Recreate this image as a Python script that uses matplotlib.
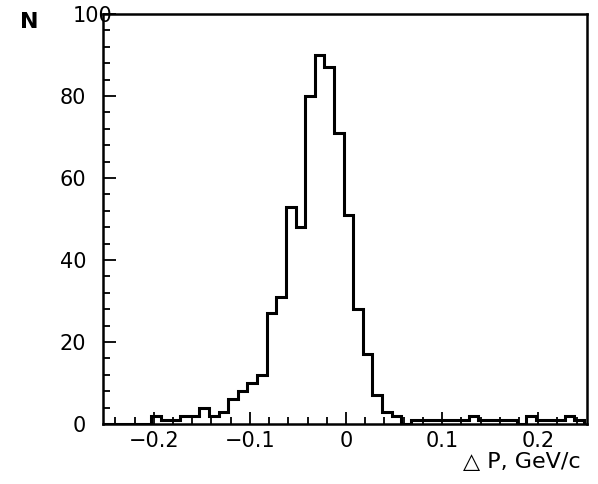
import numpy as np
import matplotlib
matplotlib.use('Agg')
import matplotlib.pyplot as plt
from matplotlib.ticker import MultipleLocator, FuncFormatter

# bin edges, width 0.01 GeV/c
bin_lo = -0.2525
bin_width = 0.01
counts = [0, 0, 0, 0, 0,
          2, 1, 1, 2, 2, 4, 2, 3, 6, 8, 10, 12,
          27, 31, 53, 48, 80, 90, 87, 71, 51, 28, 17, 7, 3, 2, 0,
          1, 1, 1, 1, 1, 1, 2, 1, 1, 1, 1, 0, 2, 1, 1, 1, 2, 1]
x_ticks = [-0.2, -0.1, 0, 0.1, 0.2]
y_ticks = [0, 20, 40, 60, 80, 100]

edges = bin_lo + bin_width * np.arange(len(counts) + 1)

fig = plt.figure(figsize=(5.98, 4.84), dpi=100)
ax = fig.add_axes([0.172, 0.124, 0.81, 0.847])

ax.stairs(counts, edges, color='black', linewidth=2.2)

ax.set_xlim(-0.253, 0.251)
ax.set_ylim(0, 100)
ax.set_xticks(x_ticks)
ax.set_yticks(y_ticks)
ax.xaxis.set_minor_locator(MultipleLocator(0.02))
ax.yaxis.set_minor_locator(MultipleLocator(4))

def fmt_x(v, pos):
    if abs(v) < 1e-9:
        return '0'
    return ('\u2212' if v < 0 else '') + ('%.1f' % abs(v))

ax.xaxis.set_major_formatter(FuncFormatter(fmt_x))
ax.tick_params(which='both', direction='in', top=False, right=False,
               labelsize=15, width=1.3)
ax.tick_params(axis='y', pad=12)
ax.tick_params(axis='x', pad=5)
ax.tick_params(which='major', length=9)
ax.tick_params(which='minor', length=5)
for s in ax.spines.values():
    s.set_linewidth(1.8)

ax.set_yticklabels(['0', '20', '40', '60', '80', ''])
fig.text(0.155, 0.966, '100', fontsize=15, ha='center', va='center')
fig.text(0.033, 0.955, 'N', fontsize=16, fontweight='bold', ha='left', va='center')
fig.text(0.774, 0.045, '\u25b3 P, GeV/c', fontsize=16, ha='left', va='center')

plt.savefig('out.png', dpi=100)
